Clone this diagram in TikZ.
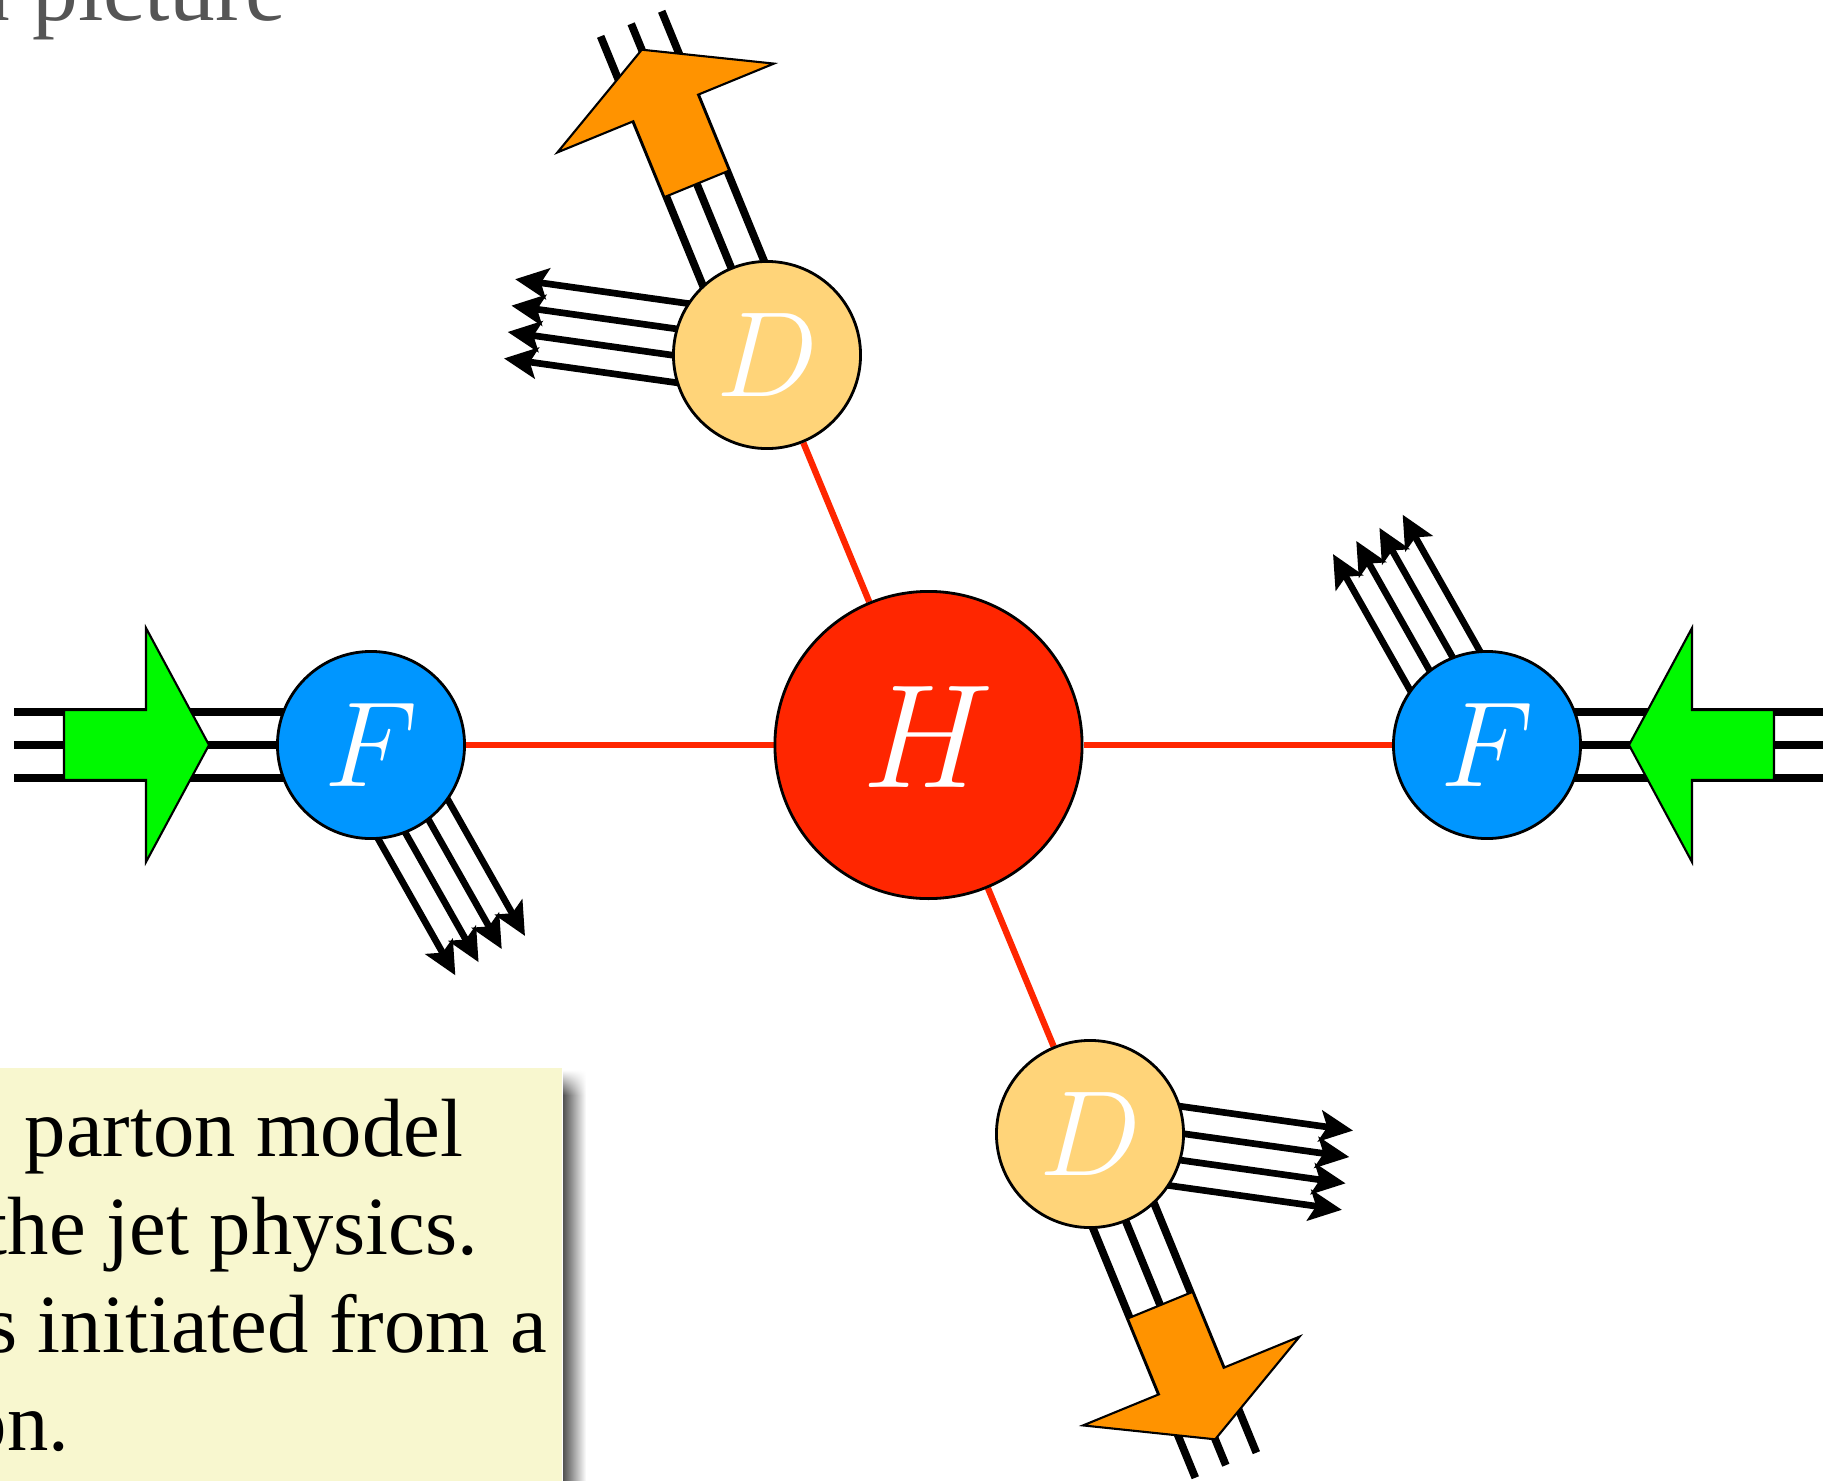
\RequirePackage{fix-cm}
\documentclass[tikz,border=0pt]{standalone}
\usepackage{fontspec}
\setmainfont{Liberation Serif}
\usetikzlibrary{arrows.meta,calc,backgrounds,fadings}
\definecolor{maraschino}{RGB}{255,38,0}
\definecolor{aqua}{RGB}{0,150,255}
\definecolor{cantaloupe}{RGB}{255,212,121}
\definecolor{tangerine}{RGB}{255,147,0}
\definecolor{spring}{RGB}{0,249,0}
\definecolor{notebg}{RGB}{248,247,207}
\definecolor{titlegray}{RGB}{85,85,85}
\tikzset{
  blob/.style={circle, draw=black, line width=0.8pt, inner sep=0pt, text=white},
  smallblob/.style={blob, minimum size=1.87cm, font=\fontsize{34.5}{34.5}\selectfont},
  bigblob/.style={blob, minimum size=3.07cm, font=\fontsize{42}{42}\selectfont},
  redline/.style={draw=maraschino, line width=1.8pt},
  tline/.style={draw=black, line width=2.2pt},
  fanline/.style={draw=black, line width=1.9pt, -{Stealth[length=0.33cm,width=0.31cm,inset=0.07cm]}},
  notetext/.style={inner sep=0pt, font=\fontsize{23.5}{28}\selectfont},
  shadowstrip/.style={left color=black!68, right color=white},
  pics/triple/.style={code={\foreach \o in {-33,0,33} \draw[tline] (0,\o) -- (#1,\o);}},
  pics/fan/.style={code={\foreach \o in {-40,-13.3,13.3,40} \draw[fanline] (0,\o) -- (#1,\o);}},
  pics/bigarrow/.style={code={\filldraw[fill=#1, draw=black, line width=0.6pt]
      (0,-35) -- (82,-35) -- (82,-117) -- (145,0) -- (82,117) -- (82,35) -- (0,35) -- cycle;}},
}
\begin{document}
\begin{tikzpicture}[x=0.01cm, y=0.01cm]
\useasboundingbox (0,0) rectangle (1823,-1481);
% title fragment
\node[anchor=base east, inner sep=0pt, text=titlegray, font=\fontsize{26}{30}\selectfont] (title) at (287,-20) {a picture};
% note box with its shadow on the right
\shade[shadowstrip, path fading=north] (563,-1070) rectangle (586,-1095);
\shade[shadowstrip] (563,-1095) rectangle (586,-1490);
\node[anchor=north east, fill=notebg, minimum width=6.4cm, minimum height=4.6cm, inner sep=0pt] (note) at (563,-1067) {};
\node[notetext, anchor=base west] (l1) at (24,-1156) {parton model};
\node[notetext, anchor=base east] (l2) at (479,-1254) {the jet physics.};
\node[notetext, anchor=base east] (l3) at (548,-1352) {s initiated from a};
\node[notetext, anchor=base east] (l4) at (70,-1450) {on.};
% blobs
\node[bigblob, fill=maraschino] (H) at (928.5,-745) {\raisebox{0.16cm}{$H$}};
\node[smallblob, fill=aqua] (F1) at (371,-745) {$F$};
\node[smallblob, fill=aqua] (F2) at (1487,-745) {$F$};
\node[smallblob, fill=cantaloupe] (D1) at (767,-355) {$D$};
\node[smallblob, fill=cantaloupe] (D2) at (1090,-1134) {$D$};
\begin{scope}[on background layer]
  \draw[redline] (H) -- (F1);
  \draw[redline] (H) -- (F2);
  \draw[redline] (H) -- (D1);
  \draw[redline] (H) -- (D2);
  \pic[rotate=-60.5] at (F1) {fan=242};
  \pic[rotate=119.5] at (F2) {fan=242};
  \pic[rotate=172] at (D1) {fan=260};
  \pic[rotate=-8] at (D2) {fan=260};
  \pic[rotate=180] at (F1) {triple=357};
  \pic at (F2) {triple=336};
  \pic[rotate=112.3] at (D1) {triple=358};
  \pic[rotate=-67.7] at (D2) {triple=358};
  \pic at ($(F1)+(-307,0)$) {bigarrow=spring};
  \pic[rotate=180] at ($(F2)+(287,0)$) {bigarrow=spring};
  \pic[rotate=112.3] at ($(D1)+(112.3:185)$) {bigarrow=tangerine};
  \pic[rotate=-67.7] at ($(D2)+(-67.7:185)$) {bigarrow=tangerine};
\end{scope}
\end{tikzpicture}
\end{document}
